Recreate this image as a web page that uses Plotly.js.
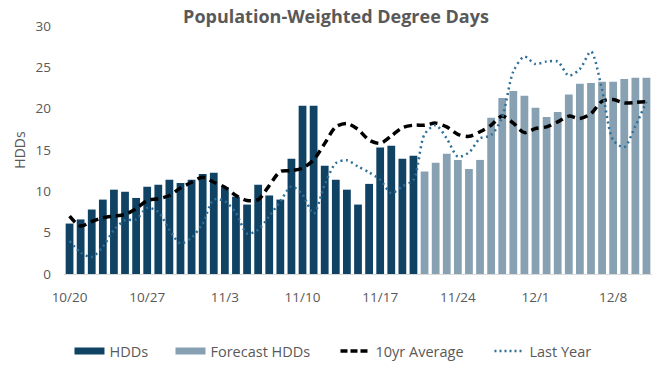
<!DOCTYPE html>
<html>
<head>
<meta charset="utf-8">
<script src="https://cdn.plot.ly/plotly-3.0.1.min.js"></script>
<style>
html,body{margin:0;padding:0;background:#fff;}
#chart{width:664px;height:378px;}
</style>
</head>
<body>
<div id="chart"></div>
<script>
const hddDates = [
  "2023-10-20","2023-10-21","2023-10-22","2023-10-23","2023-10-24","2023-10-25","2023-10-26","2023-10-27",
  "2023-10-28","2023-10-29","2023-10-30","2023-10-31","2023-11-01","2023-11-02","2023-11-03","2023-11-04",
  "2023-11-05","2023-11-06","2023-11-07","2023-11-08","2023-11-09","2023-11-10","2023-11-11","2023-11-12",
  "2023-11-13","2023-11-14","2023-11-15","2023-11-16","2023-11-17","2023-11-18","2023-11-19","2023-11-20"
];
const forecastDates = [
  "2023-11-21","2023-11-22","2023-11-23","2023-11-24","2023-11-25","2023-11-26","2023-11-27","2023-11-28",
  "2023-11-29","2023-11-30","2023-12-01","2023-12-02","2023-12-03","2023-12-04","2023-12-05","2023-12-06",
  "2023-12-07","2023-12-08","2023-12-09","2023-12-10","2023-12-11"
];
const hdds = [6.1, 6.6, 7.8, 9.0, 10.2, 9.95, 9.2, 10.55, 10.8, 11.4, 11.0, 11.4, 12.1, 12.25, 10.5, 9.35,
  8.4, 10.8, 9.5, 9.0, 13.95, 20.35, 20.35, 13.1, 11.4, 10.2, 8.4, 10.9, 15.3, 15.5, 13.95, 14.3];
const forecastHdds = [12.4, 13.45, 14.55, 13.8, 12.7, 13.8, 18.9, 21.3, 22.15, 21.55, 20.1, 19.0, 19.6, 21.7,
  23.0, 23.1, 23.25, 23.25, 23.6, 23.75, 23.75];
const tenYearAvg = [7.0, 5.8, 6.35, 6.8, 7.0, 7.2, 7.9, 8.9, 9.1, 9.5, 10.4, 11.1, 11.7, 11.1, 10.5, 9.5,
  8.9, 9.0, 10.7, 12.4, 12.5, 12.8, 13.8, 15.8, 17.8, 18.2, 17.5, 16.2, 15.8, 16.7, 17.7, 18.0,
  18.0, 18.25, 17.8, 16.9, 16.65, 17.2, 18.0, 19.1, 18.25, 17.1, 17.6, 17.8, 18.4, 19.1, 18.8, 19.4,
  20.9, 21.1, 20.7, 20.75, 20.85];
const lastYear = [4.0, 2.6, 2.05, 3.3, 5.3, 6.5, 6.6, 8.0, 7.5, 5.35, 3.7, 4.4, 6.1, 9.0, 8.8, 7.4,
  4.9, 5.35, 7.0, 8.8, 10.6, 9.6, 7.3, 10.8, 13.4, 13.75, 13.0, 12.3, 11.4, 9.8, 10.6, 11.4,
  16.9, 18.0, 16.4, 14.2, 14.7, 16.4, 16.8, 19.0, 24.5, 26.3, 25.4, 25.7, 25.7, 24.0, 24.8, 26.9,
  22.3, 16.2, 15.35, 17.9, 20.85];
const tickDates = ["2023-10-20","2023-10-27","2023-11-03","2023-11-10","2023-11-17","2023-11-24","2023-12-01","2023-12-08"];
const tickLabels = ["10/20","10/27","11/3","11/10","11/17","11/24","12/1","12/8"];

const allDates = hddDates.concat(forecastDates);
const DARK = "#104263", LIGHT = "#87A1B3", DOT = "#2F6F98";
const textGray = "#595959";

const traces = [
  {type:"bar", x:hddDates, y:hdds, marker:{color:DARK}, showlegend:false, hoverinfo:"skip"},
  {type:"bar", x:forecastDates, y:forecastHdds, marker:{color:LIGHT}, showlegend:false, hoverinfo:"skip"},
  {type:"scatter", mode:"lines", x:allDates, y:tenYearAvg, showlegend:false,
   line:{color:"#000", width:3.5, dash:"8px,5px", shape:"spline", smoothing:0.8}},
  {type:"scatter", mode:"lines", x:allDates, y:lastYear, showlegend:false,
   line:{color:DOT, width:2.5, dash:"2px,3.5px", shape:"spline", smoothing:0.8}},
  // legend entries
  {type:"scatter", mode:"lines", x:[allDates[0]], y:[null], name:"HDDs", legendwidth:56, line:{color:DARK, width:7}},
  {type:"scatter", mode:"lines", x:[allDates[0]], y:[null], name:"Forecast HDDs", legendwidth:120, line:{color:LIGHT, width:7}},
  {type:"scatter", mode:"lines", x:[allDates[0]], y:[null], name:"10yr Average", legendwidth:109, line:{color:"#000", width:3.5, dash:"7px,3px"}},
  {type:"scatter", mode:"lines", x:[allDates[0]], y:[null], name:"Last Year", legendwidth:66, line:{color:DOT, width:2.5, dash:"2px,3px"}}
];

const layout = {
  width:664, height:378,
  margin:{l:64, r:12, t:26, b:104},
  paper_bgcolor:"#fff", plot_bgcolor:"#fff",
  font:{family:"Open Sans, sans-serif", color:textGray, size:13},
  title:{text:"<b>Population-Weighted Degree Days</b>", font:{size:18, color:textGray, family:"Open Sans, sans-serif"},
    x:0.506, xref:"container", xanchor:"center", y:0.955, yref:"container", yanchor:"middle"},
  barmode:"overlay",
  bargap:0.3,
  xaxis:{type:"date", range:["2023-10-19 12:00","2023-12-11 12:00"], tickmode:"array",
    tickvals:tickDates, ticktext:tickLabels, showgrid:false, zeroline:false,
    showline:true, linecolor:"#D9D9D9", linewidth:1, ticks:"", ticklabelstandoff:11,
    tickfont:{size:13.5, color:textGray}},
  yaxis:{range:[0,30], dtick:5, showgrid:false, zeroline:false, showline:false, ticks:"",
    ticklabelstandoff:12, tickfont:{size:13.5, color:textGray},
    title:{text:"HDDs", font:{size:14, color:textGray}, standoff:6}},
  legend:{orientation:"h", xref:"container", yref:"container", x:0.5045, xanchor:"center",
    y:0.071, yanchor:"middle", font:{size:14.5, color:textGray}, itemwidth:30, traceorder:"normal"},
  showlegend:true
};

Plotly.newPlot("chart", traces, layout, {staticPlot:true, displayModeBar:false});
</script>
</body>
</html>
